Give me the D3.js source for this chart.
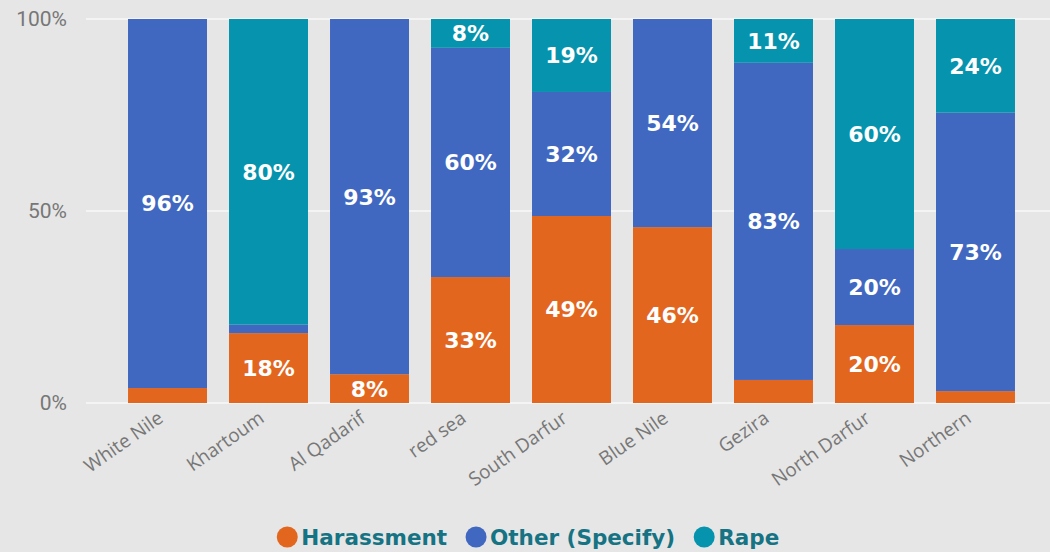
<!DOCTYPE html>
<html>
<head>
<meta charset="utf-8">
<script src="https://cdn.jsdelivr.net/npm/d3@7"></script>
<style>
  body { margin: 0; background: #e6e6e6; }
  svg { display: block; font-family: "Open Sans", sans-serif; }
</style>
</head>
<body>
<div id="chart"></div>
<script>
const regions = ["White Nile", "Khartoum", "Al Qadarif", "red sea", "South Darfur", "Blue Nile", "Gezira", "North Darfur", "Northern"];
const harassment = [3.9, 18.2, 7.5, 32.8, 48.7, 45.8, 6.0, 20.3, 3.1];
const other = [96.1, 2.2, 92.5, 59.7, 32.3, 54.2, 82.6, 19.8, 72.5];
const rape = [0, 79.6, 0, 7.5, 19.0, 0, 11.4, 59.9, 24.4];
const seriesNames = ["Harassment", "Other (Specify)", "Rape"];
const yTicks = [0, 0.5, 1];

const colors = {"Harassment": "#e3661f", "Other (Specify)": "#4168c1", "Rape": "#0593ad"};

const width = 1050, height = 552;
const boldFont = "DejaVu Sans, sans-serif";

const rows = regions.map((r, i) => ({
    region: r,
    "Harassment": harassment[i],
    "Other (Specify)": other[i],
    "Rape": rape[i]
}));

const stacked = d3.stack()
    .keys(seriesNames)
    .offset(d3.stackOffsetExpand)(rows);

const x = d3.scaleBand()
    .domain(regions)
    .range([106, 1037])
    .paddingInner(0.218)
    .paddingOuter(0.218);

const y = d3.scaleLinear()
    .domain([0, 1])
    .range([403, 19]);

const svg = d3.select("#chart").append("svg")
    .attr("width", width)
    .attr("height", height);

// gridlines
svg.append("g")
    .selectAll("line")
    .data(yTicks)
    .enter().append("line")
    .attr("x1", 86)
    .attr("x2", width)
    .attr("y1", d => y(d))
    .attr("y2", d => y(d))
    .attr("stroke", "#f4f4f4")
    .attr("stroke-width", 2);

// y axis
const yAxis = svg.append("g")
    .attr("transform", "translate(67,0)")
    .call(d3.axisLeft(y).tickValues(yTicks).tickFormat(d3.format(".0%")).tickSize(0).tickPadding(0));
yAxis.select(".domain").remove();
yAxis.selectAll("text")
    .attr("fill", "#777777")
    .style("font-size", "21px")
    .style("font-family", "Roboto, sans-serif");

// bars
const layer = svg.append("g")
    .selectAll("g")
    .data(stacked)
    .enter().append("g")
    .attr("fill", d => colors[d.key]);

layer.selectAll("rect")
    .data(d => d)
    .enter().append("rect")
    .attr("x", d => x(d.data.region))
    .attr("y", d => y(d[1]))
    .attr("width", x.bandwidth())
    .attr("height", d => y(d[0]) - y(d[1]));

// data labels
stacked.forEach(s => {
    svg.append("g")
        .selectAll("text")
        .data(s.filter(d => y(d[0]) - y(d[1]) >= 24))
        .enter().append("text")
        .attr("x", d => x(d.data.region) + x.bandwidth() / 2)
        .attr("y", d => (y(d[0]) + y(d[1])) / 2)
        .attr("dy", "0.36em")
        .attr("text-anchor", "middle")
        .attr("fill", "#ffffff")
        .style("font-family", boldFont)
        .style("font-size", "22px")
        .style("font-weight", "bold")
        .text(d => Math.round(d.data[s.key]) + "%");
});

// x axis
const xAxis = svg.append("g")
    .attr("transform", "translate(0,403)")
    .call(d3.axisBottom(x).tickSize(0).tickPadding(0));
xAxis.select(".domain").remove();
xAxis.selectAll("text")
    .attr("fill", "#777777")
    .style("font-size", "19px")
    .style("font-family", "Open Sans, sans-serif")
    .attr("text-anchor", "end")
    .attr("y", 0)
    .attr("dy", 0)
    .attr("transform", "translate(-3,18) rotate(-35)");

// legend
const legend = svg.append("g")
    .attr("transform", "translate(0,537)");

const items = legend.selectAll("g")
    .data(seriesNames)
    .enter().append("g");

items.append("circle")
    .attr("r", 10.5)
    .attr("fill", d => colors[d]);

items.append("text")
    .attr("x", 14)
    .attr("dy", "0.36em")
    .attr("fill", "#157383")
    .style("font-family", boldFont)
    .style("font-size", "21.5px")
    .style("font-weight", "bold")
    .text(d => d);

let offsets = [], pos = 0;
items.each(function (d, i) {
    offsets.push(pos);
    const w = this.querySelector("text").getComputedTextLength();
    pos += 10.5 + 14 + w + 8 + 10.5;
});
const total = pos - 18.5;
const start = width / 2 + 3 - total / 2 + 10.5;
items.attr("transform", (d, i) => "translate(" + (start + offsets[i]) + ",0)");
</script>
</body>
</html>
